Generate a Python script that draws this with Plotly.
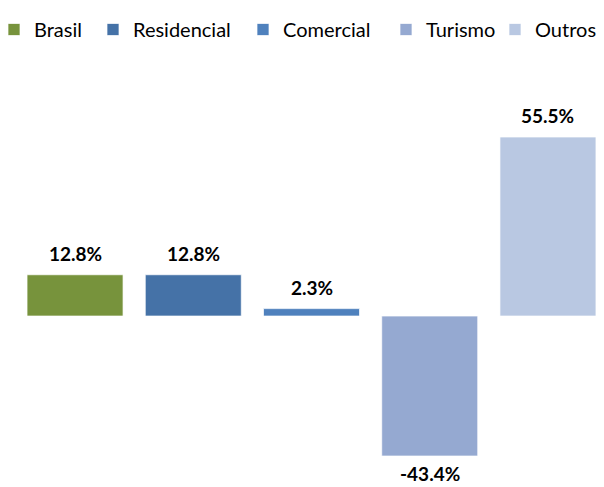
import plotly.graph_objects as go

categories = ["Brasil", "Residencial", "Comercial", "Turismo", "Outros"]
values = [12.8, 12.8, 2.3, -43.4, 55.5]
colors = ["#77933C", "#4572A7", "#4F81BD", "#95A9D1", "#B9C8E2"]
labels = ["12.8%", "12.8%", "2.3%", "-43.4%", "55.5%"]

# the page body adds an 8px margin around the figure
OFFSET = 8
W, H = 604 - OFFSET, 487 - OFFSET
legend_x_px = [-14, 85, 235, 378, 487]

FONT = "Lato"

fig = go.Figure()
layout_legends = {}
for i, (c, v, col) in enumerate(zip(categories, values, colors)):
    lname = "legend" if i == 0 else f"legend{i + 1}"
    fig.add_trace(go.Bar(
        x=[i], y=[v], name=c, width=0.812,
        marker=dict(color=col, line=dict(color="rgba(255,255,255,0.7)", width=1)),
        hoverinfo="skip", legend=lname,
    ))
    fig.add_annotation(
        x=i, y=v, text=f"<b>{labels[i]}</b>", showarrow=False,
        yanchor="bottom" if v >= 0 else "top",
        yshift=9 if v >= 0 else -5,
        borderpad=0,
        font=dict(family=FONT, size=19, color="#000000"),
    )
    layout_legends[lname] = dict(
        x=legend_x_px[i] / W, xanchor="left", y=1.0 - 2 / H, yanchor="top",
        orientation="h", bgcolor="rgba(0,0,0,0)",
        font=dict(family=FONT, size=20, color="#000000"),
        itemwidth=30,
    )

fig.update_layout(
    width=W, height=H,
    margin=dict(l=0, r=0, t=0, b=0, autoexpand=False),
    plot_bgcolor="white", paper_bgcolor="white",
    barmode="overlay",
    showlegend=True,
    xaxis=dict(range=[-0.567, 4.474], visible=False, fixedrange=True),
    yaxis=dict(range=[-53.0, 95.5], visible=False, fixedrange=True),
    **layout_legends,
)

fig.write_html("out.html")
